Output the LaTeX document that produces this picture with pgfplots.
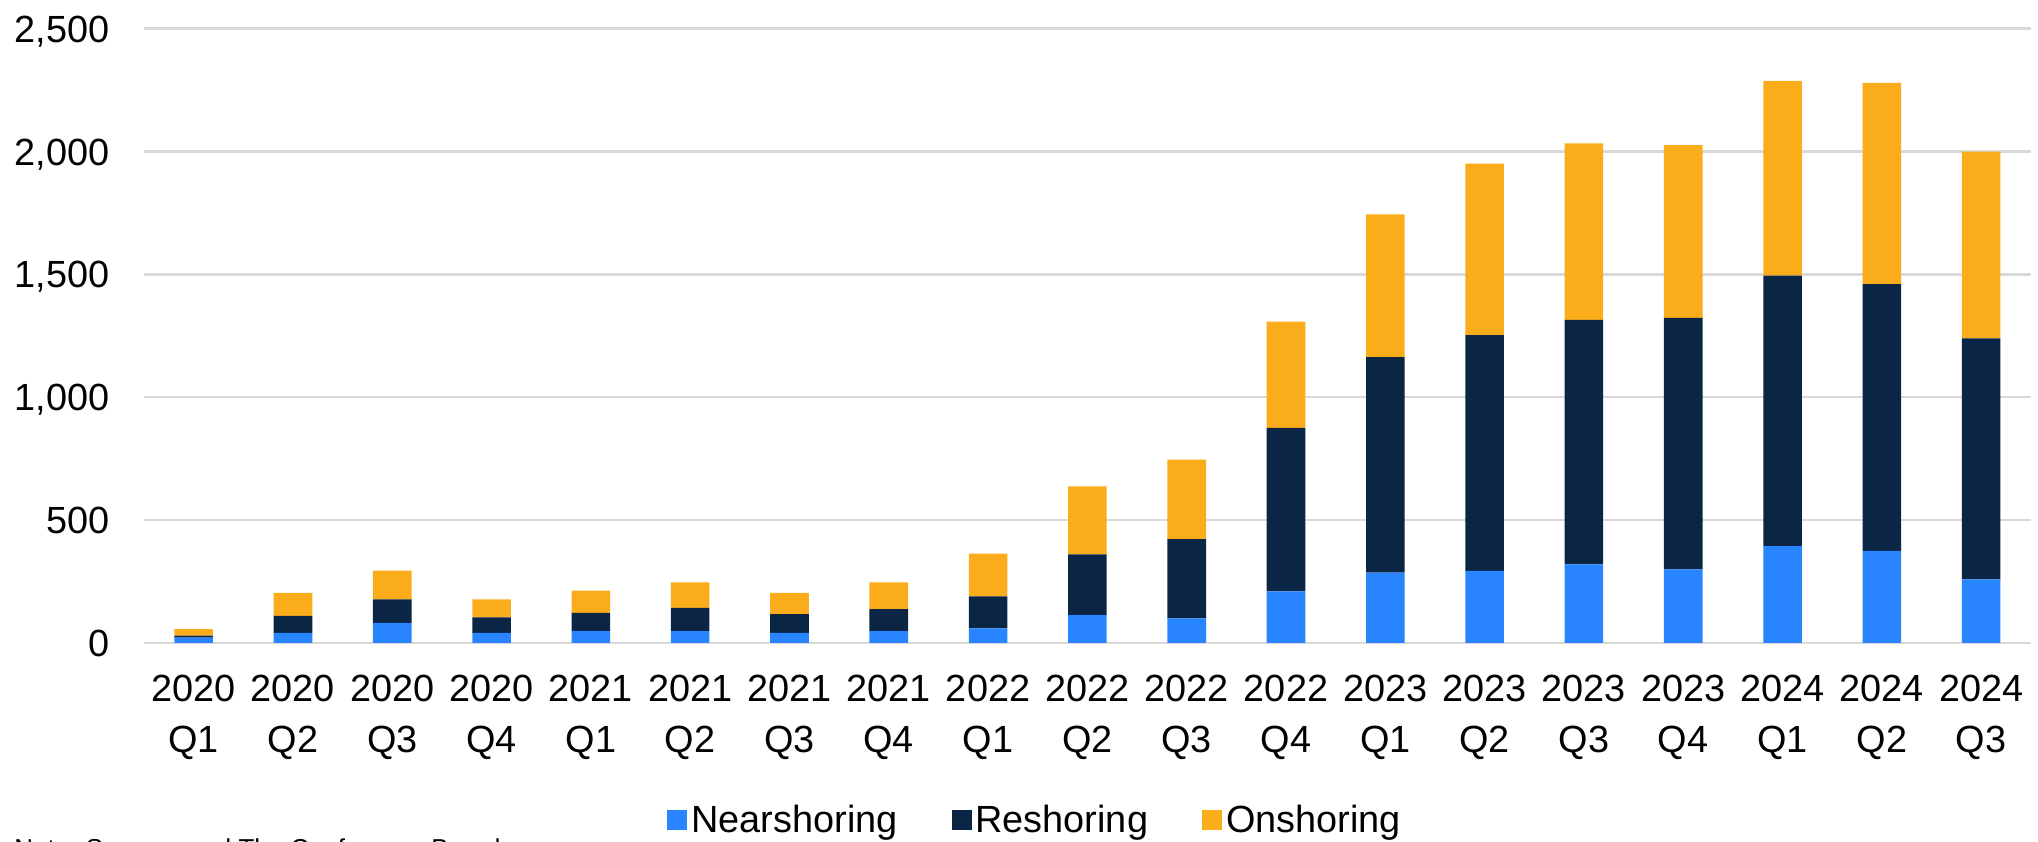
\documentclass[border=0pt]{standalone}
\usepackage{pgfplots}
\pgfplotsset{compat=1.18}
\usepackage{fontspec}
\setmainfont{Liberation Sans}
\definecolor{cNear}{HTML}{2985FF}
\definecolor{cRes}{HTML}{0B2545}
\definecolor{cOn}{HTML}{FAAC1A}
\definecolor{cGrid}{HTML}{D9D9D9}
\begin{document}
\begin{tikzpicture}
\useasboundingbox (0,0) rectangle (1019bp,421bp);
\clip (0,0) rectangle (1019bp,421bp);
\begin{axis}[
  at={(72bp,99.5bp)}, anchor=south west,
  scale only axis, width=943.4bp, height=307.2bp,
  ybar stacked, bar width=19.3bp,
  xmin=-0.5, xmax=18.5, ymin=0, ymax=2500,
  xtick={0,...,18},
  xticklabels={{2020\\Q1},{2020\\Q2},{2020\\Q3},{2020\\Q4},{2021\\Q1},{2021\\Q2},{2021\\Q3},{2021\\Q4},{2022\\Q1},{2022\\Q2},{2022\\Q3},{2022\\Q4},{2023\\Q1},{2023\\Q2},{2023\\Q3},{2023\\Q4},{2024\\Q1},{2024\\Q2},{2024\\Q3}},
  ytick={0,500,1000,1500,2000,2500},
  ymajorgrids, grid style={cGrid, line width=1.2bp},
  axis line style={draw=none},
  major tick length=0pt,
  /pgf/number format/assume math mode=true,
  /pgf/number format/1000 sep={,},
  yticklabel style={font=\fontsize{19}{23}\selectfont, anchor=base east, inner sep=0pt, xshift=-17bp, yshift=-6.8bp},
  xticklabel style={font=\fontsize{19}{25.5}\selectfont, align=center, anchor=north, inner sep=0pt, yshift=-16bp},
  legend columns=3,
  legend style={draw=none, fill=none, at={(0.4728,-0.288)}, anchor=center,
    font=\fontsize{19}{23}\selectfont,
    /tikz/every even column/.append style={column sep=25bp},
    nodes={inner sep=2bp}},
  legend image code/.code={\fill[#1, draw=none] (0bp,-5bp) rectangle (10bp,5bp);},
]
\addplot[fill=cNear, draw=none] coordinates {(0,22) (1,41) (2,82) (3,41) (4,48) (5,48) (6,41) (7,48) (8,60) (9,113) (10,100) (11,210) (12,286) (13,293) (14,320) (15,300) (16,394) (17,375) (18,259)};
\addplot[fill=cRes, draw=none] coordinates {(0,8) (1,69) (2,96) (3,63) (4,75) (5,95) (6,76) (7,90) (8,130) (9,248) (10,323) (11,665) (12,877) (13,960) (14,995) (15,1023) (16,1101) (17,1085) (18,981)};
\addplot[fill=cOn, draw=none] coordinates {(0,26) (1,94) (2,116) (3,74) (4,90) (5,104) (6,87) (7,109) (8,174) (9,276) (10,323) (11,433) (12,581) (13,698) (14,718) (15,703) (16,792) (17,819) (18,759)};
\legend{Nearshoring, Reshoring, Onshoring}
\end{axis}
\node[anchor=base west, inner sep=0pt, font=\fontsize{13}{15}\selectfont] at (7bp,-7.5bp) {Note: Sources and The Conference Board};
\end{tikzpicture}
\end{document}
